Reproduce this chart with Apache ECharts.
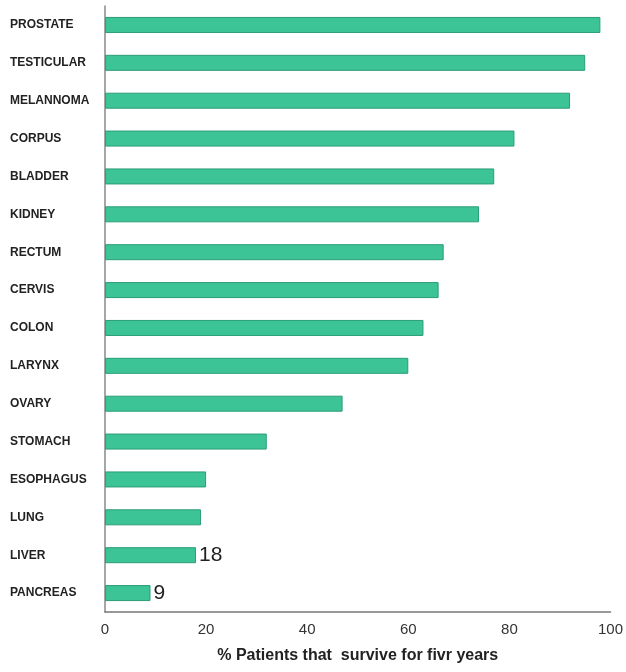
<!DOCTYPE html>
<html>
<head>
<meta charset="utf-8">
<script src="https://cdn.jsdelivr.net/npm/echarts@6/dist/echarts.min.js"></script>
<style>
  html, body { margin: 0; padding: 0; background: #fff; }
  #chart { width: 626px; height: 672px; }
</style>
</head>
<body>
<div id="chart"></div>
<script>
// cancer types, top to bottom
const categories = [
  "PROSTATE", "TESTICULAR", "MELANNOMA", "CORPUS", "BLADDER", "KIDNEY",
  "RECTUM", "CERVIS", "COLON", "LARYNX", "OVARY", "STOMACH",
  "ESOPHAGUS", "LUNG", "LIVER", "PANCREAS"
];
// % surviving five years
const survival = [98, 95, 92, 81, 77, 74, 67, 66, 63, 60, 47, 32, 20, 19, 18, 9];
// only these bars carry a value label
const labelled = ["LIVER", "PANCREAS"];
const xTicks = [0, 20, 40, 60, 80, 100];

const font = "Liberation Sans Narrow, Liberation Sans, Arial, sans-serif";

const myChart = echarts.init(document.getElementById("chart"));
myChart.setOption({
  animation: false,
  grid: { left: 105, right: 15, top: 6, bottom: 60 },
  xAxis: {
    type: "value",
    min: xTicks[0],
    max: xTicks[xTicks.length - 1],
    interval: 20,
    name: "% Patients that  survive for fivr years",
    nameLocation: "middle",
    nameGap: 36,
    nameTextStyle: { fontFamily: font, fontWeight: "bold", fontSize: 16, color: "#222" },
    axisLine: { show: true, lineStyle: { color: "#777", width: 1.5 } },
    axisTick: { show: false },
    axisLabel: { fontFamily: font, fontSize: 15, color: "#333", margin: 10 },
    splitLine: { show: false }
  },
  yAxis: {
    type: "category",
    inverse: true,
    data: categories,
    axisLine: { show: true, lineStyle: { color: "#888", width: 1.5 } },
    axisTick: { show: false },
    axisLabel: {
      fontFamily: font,
      fontWeight: "bold",
      fontSize: 12,
      color: "#222",
      align: "left",
      margin: 95
    }
  },
  series: [
    {
      type: "bar",
      barWidth: 16,
      data: survival.map((v, i) => ({
        value: v,
        label: {
          show: labelled.includes(categories[i]),
          position: "right",
          distance: 3,
          fontFamily: font,
          fontSize: 21,
          color: "#222"
        }
      })),
      itemStyle: { color: "#3cc496", borderColor: "#2b9d78", borderWidth: 1 }
    }
  ]
});
</script>
</body>
</html>
